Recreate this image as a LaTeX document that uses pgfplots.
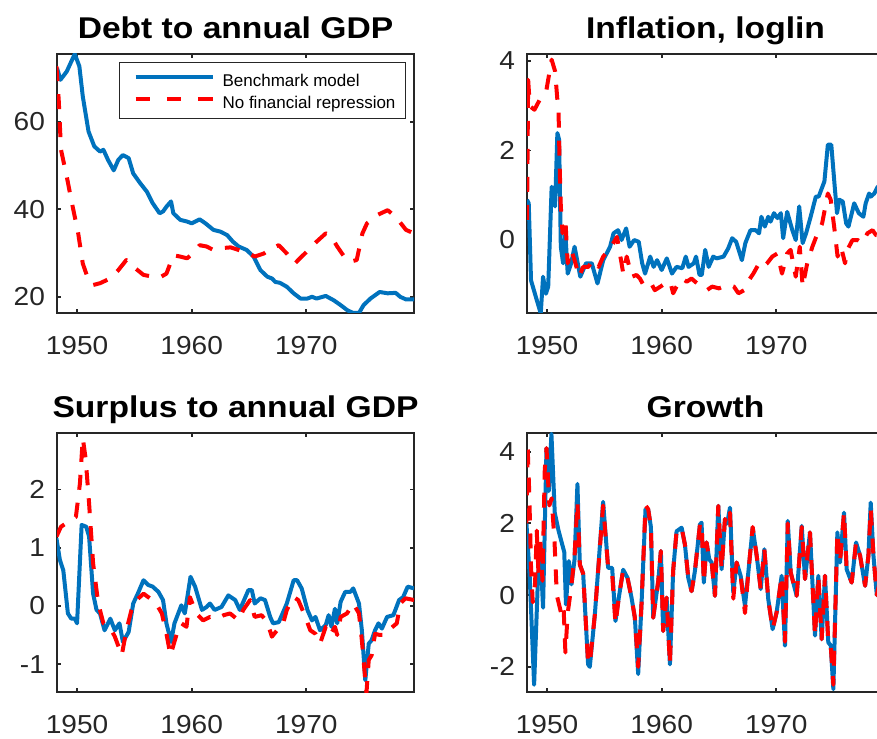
\documentclass[border=0pt]{standalone}
\usepackage{fontspec}
\setmainfont{Liberation Sans}
\newfontfamily\tickfont[FakeStretch=1.08]{Liberation Sans}
\newfontfamily\titlefont[FakeStretch=1.12]{Liberation Sans}
\usepackage{pgfplots}
\pgfplotsset{compat=1.18}
\definecolor{mblue}{RGB}{0,114,189}
\definecolor{axgray}{RGB}{38,38,38}
\pgfplotsset{
 panel/.style={
  scale only axis, width=178.5pt, height=129.5pt, anchor=south west,
  xmin=1948.25, xmax=1979.4,
  xtick={1950,1960,1970}, xticklabels={1950,1960,1970},
  tick align=inside, major tick length=2.2pt,
  axis line style={line width=0.9pt, draw=axgray},
  every tick/.style={line width=0.9pt, axgray},
  ticklabel style={font=\tickfont\fontsize{13}{13}\selectfont, text=axgray},
  xticklabel style={yshift=-8pt},
  yticklabel style={xshift=-2.5pt},
  every axis title/.style={font=\titlefont\bfseries\fontsize{15}{15}\selectfont, at={(0.5,1)}, anchor=base, yshift=7.5pt},
  no markers,
 },
 bl/.style={mblue, line width=2pt, line join=round, solid},
 rd/.style={red, line width=2pt, line join=round, dash pattern=on 7.5pt off 6.5pt},
 blleg/.style={legend image code/.code={\path[draw=none] (0pt,0pt) -- (3pt,0pt); \draw[##1] (3pt,1pt) -- (41.5pt,1pt);}},
 rdleg/.style={legend image code/.code={\path[draw=none] (0pt,0pt) -- (3pt,0pt); \draw[##1, dash pattern=on 7.3pt off 8.3pt] (3pt,1pt) -- (41.5pt,1pt);}},
}
\begin{document}
\begin{tikzpicture}
\useasboundingbox (0,0) rectangle (438.5pt,369pt);
\clip (0,0) rectangle (438.5pt,369pt);
% ---------------- Debt
\begin{axis}[panel, at={(28.5pt,212.5pt)}, ymin=16.3, ymax=75.5,
  ytick={20,40,60}, yticklabels={20,40,60},
  title={Debt to annual GDP},
  legend cell align=left,
  legend style={at={(rel axis cs:1,1)}, anchor=north east, xshift=-4pt, yshift=-4pt,
    draw=axgray, line width=0.5pt, fill=white,
    inner xsep=5pt, inner ysep=5pt, row sep=4pt,
    font=\fontsize{8.5}{8.5}\selectfont,
    nodes={inner sep=0pt, text height=7pt, text depth=0pt},
    /tikz/every odd column/.append style={column sep=4pt}},
]
\addplot[bl, blleg] coordinates {
(1948.25,72.3) (1948.55,69.6) (1949.1,71.5) (1949.8,75.5) (1950.2,72.7) (1950.5,65.8)
(1951.0,57.8) (1951.5,54.4) (1952.0,53.2) (1952.3,53.6) (1952.7,51.3) (1953.2,48.9)
(1953.6,51.3) (1954.0,52.4) (1954.5,51.7) (1954.9,48.2) (1955.5,46.0) (1956.1,44.0)
(1956.6,41.4) (1957.2,39.1) (1957.5,39.5) (1957.8,40.6) (1958.2,41.8) (1958.4,39.1)
(1959.0,37.6) (1959.6,37.2) (1960.0,36.8) (1960.7,37.7) (1961.2,36.8) (1961.9,35.3)
(1962.5,34.9) (1963.1,34.1) (1963.6,32.6) (1964.1,31.5) (1964.8,30.7) (1965.4,29.2)
(1966.0,26.1) (1966.6,24.6) (1967.0,24.2) (1967.3,23.4) (1967.7,23.2) (1968.3,22.3)
(1968.9,20.8) (1969.5,19.6) (1970.1,19.6) (1970.5,20.0) (1970.9,19.6) (1971.7,20.2)
(1972.4,19.2) (1973.0,18.1) (1973.6,16.9) (1974.1,16.3) (1974.6,16.3) (1975.0,18.1)
(1975.6,19.6) (1976.4,21.1) (1977.1,20.8) (1977.8,20.9) (1978.2,20.0) (1978.7,19.4)
(1979.4,19.4)};
\addlegendentry{Benchmark model}
\addplot[rd, rdleg] coordinates {
(1948.2,72.7) (1948.4,65.0) (1948.6,53.6) (1949.1,47.5) (1949.5,42.1) (1950.1,34.5)
(1950.5,27.6) (1951.0,23.8) (1951.4,22.7) (1952.0,23.1) (1952.9,24.2) (1953.6,26.1)
(1954.3,28.4) (1954.9,26.9) (1955.8,25.0) (1956.6,24.6) (1957.2,24.4) (1957.8,25.3)
(1958.4,29.5) (1959.0,29.2) (1959.6,28.8) (1960.1,29.9) (1960.7,31.8) (1961.3,31.5)
(1961.9,30.7) (1962.5,31.1) (1963.4,31.3) (1964.1,30.7) (1964.8,30.1) (1965.5,29.2)
(1966.3,29.9) (1967.0,31.1) (1967.6,31.8) (1968.3,29.9) (1969.0,27.6) (1969.6,29.2)
(1970.2,30.7) (1970.9,32.6) (1971.7,34.5) (1972.1,34.1) (1972.7,31.5) (1973.3,29.2)
(1973.8,28.0) (1974.4,28.4) (1974.9,34.5) (1975.3,36.8) (1976.2,38.7) (1977.1,39.8)
(1977.8,38.3) (1978.7,35.3) (1979.4,34.5)};
\addlegendentry{No financial repression}
\end{axis}
% ---------------- Inflation
\begin{axis}[panel, at={(263.5pt,212.5pt)}, ymin=-1.63, ymax=4.156,
  ytick={0,2,4}, yticklabels={0,2,4},
  title={Inflation, loglin}]
\addplot[bl] coordinates {
(1948.25,0.9) (1948.4,0.82) (1948.6,-0.9) (1949.1,-1.34) (1949.45,-1.64) (1949.65,-0.82)
(1949.9,-1.2) (1950.1,-1.04) (1950.4,1.19) (1950.7,0.75) (1950.9,2.39) (1951.05,2.24)
(1951.2,-0.15) (1951.4,-0.52) (1951.6,0.15) (1951.8,-0.75) (1952.1,-0.52) (1952.4,-0.15)
(1952.9,-0.82) (1953.4,-0.52) (1953.9,-0.52) (1954.4,-0.97) (1954.9,-0.45) (1955.5,-0.15)
(1955.8,0.15) (1956.2,0.22) (1956.5,0.0) (1956.9,0.26) (1957.2,-0.15) (1957.6,0.0)
(1958.0,-0.04) (1958.3,-0.52) (1958.55,-0.75) (1959.0,-0.37) (1959.3,-0.6) (1959.6,-0.45)
(1960.0,-0.67) (1960.45,-0.41) (1960.9,-0.75) (1961.3,-0.6) (1961.8,-0.63) (1962.1,-0.37)
(1962.35,-0.6) (1962.8,-0.52) (1963.0,-0.37) (1963.3,-0.78) (1963.5,-0.78) (1963.8,-0.22)
(1964.1,-0.6) (1964.5,-0.37) (1964.8,-0.41) (1965.4,-0.37) (1965.8,-0.19) (1966.15,0.04)
(1966.5,-0.04) (1967.0,-0.45) (1967.3,-0.07) (1967.75,0.22) (1968.2,0.22) (1968.5,0.15)
(1968.7,0.52) (1969.0,0.3) (1969.3,0.52) (1969.5,0.41) (1969.8,0.6) (1970.1,0.49)
(1970.4,0.6) (1970.6,0.04) (1970.95,0.63) (1971.4,0.22) (1971.7,0.0) (1972.0,0.75)
(1972.3,-0.07) (1972.6,0.15) (1973.0,0.52) (1973.45,0.97) (1973.7,0.97) (1974.2,1.31)
(1974.5,2.13) (1974.8,2.13) (1975.1,1.19) (1975.3,0.6) (1975.5,0.9) (1975.8,0.86)
(1976.1,0.37) (1976.3,0.3) (1976.8,0.82) (1977.2,0.6) (1977.6,0.52) (1977.8,0.82)
(1978.1,1.04) (1978.25,0.97) (1978.55,1.04) (1978.85,1.19) (1979.4,1.1)};
\addplot[rd] coordinates {
(1948.25,0.45) (1948.35,3.58) (1948.5,2.99) (1948.9,2.91) (1949.35,3.13) (1949.95,3.36)
(1950.4,4.03) (1950.7,3.77) (1950.9,3.13) (1951.0,2.9) (1951.1,1.64) (1951.2,0.75)
(1951.35,0.15) (1951.6,0.45) (1951.8,-0.52) (1952.1,-0.22) (1952.4,-0.45) (1952.8,-0.82)
(1953.15,-0.6) (1953.6,-0.6) (1954.0,-0.45) (1954.5,-0.6) (1954.9,-0.37) (1955.6,-0.15)
(1956.1,0.07) (1956.5,-0.52) (1956.65,-0.75) (1956.95,-0.37) (1957.4,-0.82) (1957.8,-0.78)
(1958.1,-0.86) (1958.4,-1.0) (1959.0,-0.93) (1959.4,-1.12) (1959.9,-1.04) (1960.3,-0.97)
(1960.75,-0.93) (1961.0,-1.19) (1961.3,-1.04) (1961.75,-0.86) (1962.2,-0.93) (1962.6,-0.86)
(1963.1,-0.97) (1963.5,-1.04) (1963.95,-1.12) (1964.4,-1.04) (1965.0,-1.08) (1965.4,-1.04)
(1965.85,-1.0) (1966.3,-1.04) (1966.7,-1.19) (1967.2,-1.12) (1967.6,-0.9) (1968.0,-0.75)
(1968.5,-0.52) (1968.85,-0.6) (1969.2,-0.52) (1969.65,-0.37) (1970.1,-0.3) (1970.5,-0.75)
(1970.95,-0.3) (1971.25,-0.22) (1971.7,-0.82) (1972.05,-0.15) (1972.3,-1.04) (1972.7,-0.52)
(1973.15,-0.15) (1973.6,0.15) (1974.0,0.37) (1974.5,1.04) (1974.75,0.9) (1975.05,0.3)
(1975.35,-0.37) (1975.65,-0.15) (1976.0,-0.52) (1976.2,-0.22) (1976.65,0.0) (1977.1,0.0)
(1977.5,-0.07) (1977.95,0.15) (1978.4,0.22) (1978.7,0.11) (1979.4,0.1)};
\end{axis}
% ---------------- Surplus
\begin{axis}[panel, at={(28.5pt,23pt)}, ymin=-1.48, ymax=2.97,
  ytick={-1,0,1,2}, yticklabels={-1,0,1,2},
  title={Surplus to annual GDP}]
\addplot[bl] coordinates {
(1948.2,1.16) (1948.5,0.79) (1948.8,0.61) (1949.2,-0.13) (1949.5,-0.22) (1949.8,-0.22)
(1950.0,-0.3) (1950.4,1.39) (1950.8,1.36) (1951.05,1.19) (1951.4,0.21) (1951.7,-0.07)
(1952.0,-0.13) (1952.4,-0.42) (1952.9,-0.22) (1953.3,-0.42) (1953.7,-0.3) (1954.0,-0.62)
(1954.5,-0.45) (1954.9,0.04) (1955.3,0.21) (1955.8,0.44) (1956.2,0.36) (1956.6,0.33)
(1957.1,0.24) (1957.5,0.1) (1957.8,-0.3) (1958.2,-0.62) (1958.5,-0.3) (1959.1,0.01)
(1959.4,-0.13) (1959.9,0.5) (1960.3,0.33) (1960.9,-0.07) (1961.3,-0.02) (1961.6,0.04)
(1962.0,-0.07) (1962.6,-0.02) (1963.2,0.18) (1963.8,0.1) (1964.2,-0.07) (1964.95,0.27)
(1965.25,0.27) (1965.5,0.04) (1966.0,0.13) (1966.4,0.1) (1966.85,-0.19) (1967.1,-0.3)
(1967.6,-0.28) (1968.0,-0.1) (1968.3,0.04) (1968.9,0.44) (1969.2,0.44) (1969.6,0.3)
(1970.1,-0.07) (1970.5,-0.25) (1970.8,-0.19) (1971.2,-0.42) (1971.7,-0.33) (1971.95,-0.16)
(1972.2,-0.36) (1972.5,-0.05) (1972.7,-0.3) (1973.0,0.07) (1973.4,0.24) (1973.85,0.24)
(1974.1,0.3) (1974.6,0.04) (1974.85,-0.42) (1975.15,-1.28) (1975.45,-0.65) (1975.7,-0.59)
(1976.0,-0.42) (1976.3,-0.3) (1976.6,-0.39) (1977.05,-0.19) (1977.6,-0.16) (1978.1,0.1)
(1978.45,0.15) (1978.85,0.33) (1979.4,0.3)};
\addplot[rd] coordinates {
(1948.2,1.19) (1948.6,1.36) (1949.2,1.44) (1949.9,1.53) (1950.25,2.1) (1950.5,2.88)
(1950.75,2.53) (1951.05,1.76) (1951.4,0.73) (1951.85,0.04) (1952.3,-0.3) (1952.85,-0.36)
(1953.3,-0.53) (1953.9,-0.85) (1954.3,-0.42) (1954.75,-0.07) (1955.2,0.1) (1955.8,0.21)
(1956.35,0.13) (1956.9,0.04) (1957.4,-0.13) (1957.8,-0.48) (1958.15,-0.85) (1958.7,-0.48)
(1959.1,-0.3) (1959.55,-0.36) (1959.85,0.15) (1960.4,-0.13) (1961.0,-0.25) (1961.6,-0.19)
(1962.2,-0.22) (1962.8,-0.16) (1963.35,-0.13) (1964.1,-0.25) (1964.5,-0.07) (1965.1,0.1)
(1965.5,-0.19) (1966.1,-0.16) (1966.6,-0.28) (1967.0,-0.53) (1967.45,-0.42) (1967.9,-0.36)
(1968.3,-0.07) (1968.9,0.15) (1969.3,0.1) (1969.8,-0.13) (1970.35,-0.42) (1970.8,-0.48)
(1971.2,-0.65) (1971.7,-0.36) (1972.1,-0.5) (1972.5,-0.36) (1972.7,-0.5) (1973.0,-0.19)
(1973.55,-0.13) (1974.1,0.04) (1974.6,-0.13) (1974.85,-0.59) (1975.25,-1.5) (1975.45,-0.93)
(1975.7,-0.85) (1976.0,-0.48) (1976.4,-0.5) (1976.9,-0.5) (1977.35,-0.39) (1977.9,-0.3)
(1978.2,0.04) (1978.65,0.13) (1979.4,0.1)};
\end{axis}
% ---------------- Growth
\begin{axis}[panel, at={(263.5pt,23pt)}, ymin=-2.7, ymax=4.52,
  ytick={-2,0,2,4}, yticklabels={-2,0,2,4},
  title={Growth}]
\addplot[bl] coordinates {
(1948.2,2.0) (1948.49,0.5) (1948.87,-2.5) (1949.22,0.6) (1949.45,1.0) (1949.65,-0.35)
(1949.95,4.1) (1950.15,2.9) (1950.38,4.5) (1950.67,2.3) (1951.0,1.8) (1951.5,1.2)
(1951.65,-0.26) (1951.9,0.95) (1952.13,0.3) (1952.4,1.0) (1952.65,3.1) (1952.86,0.85)
(1953.15,0.6) (1953.58,-1.93) (1953.73,-2.0) (1954.17,-0.54) (1954.89,2.6) (1955.33,0.76)
(1955.68,0.76) (1955.97,-0.72) (1956.26,-0.07) (1956.64,0.71) (1957.02,0.48) (1957.37,-0.07)
(1957.66,-0.63) (1957.95,-2.2) (1958.24,-0.26) (1958.59,2.4) (1958.82,2.4) (1959.06,1.9)
(1959.26,-0.63) (1959.7,0.39) (1959.93,1.23) (1960.13,-1.0) (1960.43,-0.07) (1960.72,-1.93)
(1961.0,0.67) (1961.3,1.78) (1961.74,1.88) (1962.03,1.41) (1962.32,0.48) (1962.61,0.11)
(1962.9,0.67) (1963.34,1.97) (1963.48,2.02) (1963.68,0.35) (1963.92,1.47) (1964.15,1.0)
(1964.36,0.91) (1964.65,-0.02) (1964.94,2.49) (1965.23,0.72) (1965.52,2.12) (1965.72,2.0)
(1965.96,2.44) (1966.25,0.07) (1966.54,0.91) (1966.89,0.54) (1967.27,-0.3) (1967.56,0.63)
(1967.94,1.88) (1968.29,1.1) (1968.64,0.17) (1968.96,1.28) (1969.3,-0.11) (1969.68,-0.95)
(1970.03,-0.48) (1970.47,0.54) (1970.76,-1.41) (1971.0,2.07) (1971.26,0.63) (1971.78,-0.02)
(1972.22,1.93) (1972.51,0.45) (1972.94,1.75) (1973.38,-1.13) (1973.67,0.54) (1973.96,-1.23)
(1974.25,0.54) (1974.54,-1.32) (1974.75,-1.4) (1974.98,-2.62) (1975.33,1.75) (1975.56,0.91)
(1975.91,2.3) (1976.14,0.72) (1976.58,0.35) (1976.96,1.47) (1977.31,1.1) (1977.75,0.26)
(1978.04,1.1) (1978.24,2.58) (1978.48,1.1) (1978.77,0.0) (1979.1,0.6) (1979.4,0.3)};
\addplot[rd] coordinates {
(1948.2,2.0) (1948.3,4.2) (1948.45,2.8) (1948.6,0.8) (1948.75,-0.2) (1948.95,0.3)
(1949.1,1.8) (1949.25,0.6) (1949.4,1.6) (1949.6,0.4) (1949.8,3.5) (1949.95,4.1)
(1950.2,2.5) (1950.4,2.7) (1950.65,1.5) (1950.85,0.0) (1951.3,-0.6) (1951.45,-0.4)
(1951.6,-1.6) (1951.8,-0.5) (1952.1,0.2) (1952.4,1.1) (1952.65,2.6) (1952.86,0.85)
(1953.15,0.6) (1953.58,-1.9) (1953.73,-1.9) (1954.17,-0.54) (1954.89,2.5) (1955.33,0.76)
(1955.68,0.6) (1955.97,-0.8) (1956.26,-0.07) (1956.64,0.71) (1957.02,0.48) (1957.37,-0.07)
(1957.66,-0.63) (1957.95,-2.0) (1958.24,-0.26) (1958.59,2.5) (1958.82,2.4) (1959.06,1.9)
(1959.26,-0.63) (1959.7,0.39) (1959.93,1.23) (1960.13,-1.0) (1960.43,-0.07) (1960.72,-1.93)
(1961.0,0.67) (1961.3,1.78) (1961.74,1.88) (1962.03,1.41) (1962.32,0.48) (1962.61,0.11)
(1962.9,0.67) (1963.34,1.97) (1963.48,2.02) (1963.68,0.35) (1963.92,1.47) (1964.15,1.0)
(1964.36,0.91) (1964.65,-0.02) (1964.94,2.49) (1965.23,0.72) (1965.52,2.12) (1965.72,2.0)
(1965.96,2.3) (1966.25,-0.1) (1966.54,0.91) (1966.89,0.54) (1967.27,-0.5) (1967.56,0.63)
(1967.94,1.9) (1968.29,1.1) (1968.64,0.17) (1968.96,1.28) (1969.3,-0.11) (1969.68,-0.95)
(1970.03,-0.48) (1970.47,0.54) (1970.76,-1.3) (1971.0,2.0) (1971.26,0.63) (1971.78,-0.02)
(1972.22,1.9) (1972.51,0.45) (1972.94,1.75) (1973.38,-1.13) (1973.67,0.54) (1973.96,-1.23)
(1974.25,0.54) (1974.54,-1.32) (1974.75,-1.4) (1974.98,-2.5) (1975.33,1.75) (1975.56,0.91)
(1975.91,2.3) (1976.14,0.72) (1976.58,0.35) (1976.96,1.47) (1977.31,1.1) (1977.75,0.26)
(1978.04,1.1) (1978.24,2.4) (1978.48,1.1) (1978.77,0.0) (1979.1,0.5) (1979.4,-0.3)};
\end{axis}
\end{tikzpicture}
\end{document}
